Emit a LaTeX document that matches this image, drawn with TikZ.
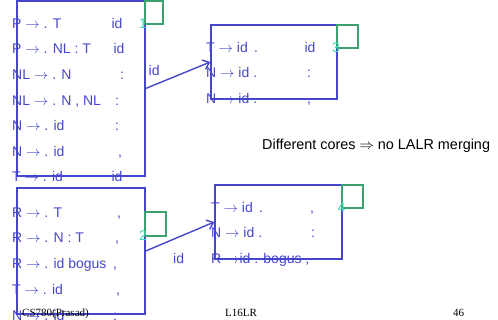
\documentclass[tikz,border=0pt]{standalone}
\usepackage{fontspec}
\setmainfont{Liberation Sans}
\newfontfamily\serifft{Liberation Serif}
\usetikzlibrary{arrows.meta}
\definecolor{itemblue}{RGB}{70,70,205}
\definecolor{boxgreen}{RGB}{60,160,110}
\definecolor{numteal}{RGB}{60,215,180}
\tikzset{
  bluebox/.style={draw=itemblue, line width=1.4pt, inner sep=0pt, rectangle},
  greenbox/.style={draw=boxgreen, line width=1.2pt, inner sep=0pt, rectangle},
  item/.style={anchor=base west, inner sep=0pt, text=itemblue, font=\fontsize{14}{16}\selectfont},
  look/.style={anchor=base, inner sep=0pt, text=itemblue, font=\fontsize{14}{16}\selectfont},
  num/.style={anchor=base, inner sep=0pt, text=numteal, font=\fontsize{14}{16}\selectfont},
  foot/.style={anchor=base west, inner sep=0pt, text=black, font=\serifft\fontsize{11}{13}\selectfont},
  trans/.style={draw=itemblue, line width=1.4pt, -{Straight Barb[length=6pt,width=10pt]}},
}
\begin{document}
\begin{tikzpicture}[x=1pt,y=-1pt]
\useasboundingbox (0,0) rectangle (498,320);
\clip (0,0) rectangle (498,320);
% boxes
\node[bluebox, minimum width=128pt, minimum height=175pt] (s1) at (81,88.5) {};
\node[bluebox, minimum width=128pt, minimum height=126pt] (s2) at (81,251) {};
\node[bluebox, minimum width=126pt, minimum height=74pt] (s3) at (274,62) {};
\node[bluebox, minimum width=127pt, minimum height=74pt] (s4) at (278.5,222) {};
% green state boxes
\node[greenbox, minimum width=18pt, minimum height=23pt] (g1) at (154,12.5) {};
\node[greenbox, minimum width=21pt, minimum height=24pt] (g2) at (155.5,224) {};
\node[greenbox, minimum width=21pt, minimum height=23pt] (g3) at (347.5,36.5) {};
\node[greenbox, minimum width=21pt, minimum height=23pt] (g4) at (352.5,196.5) {};
\node[num] (n1) at (143,28.3) {1};
\node[num] (n2) at (143,241) {2};
\node[num] (n3) at (336,52.3) {3};
\node[num] (n4) at (341.5,212.3) {4};
% state 1 items
\node[item] (a1) at (12,28.3) {P $\rightarrow$ . T};
\node[look] (l1) at (117,28.3) {id};
\node[item] (a2) at (12,53.9) {P $\rightarrow$ . NL : T};
\node[look] (l2) at (119,53.9) {id};
\node[item] (a3) at (12,79.5) {NL $\rightarrow$ . N};
\node[look] (l3) at (122,79.5) {:};
\node[item] (a4) at (12,105.1) {NL $\rightarrow$ . N , NL};
\node[look] (l4) at (117,105.1) {:};
\node[item] (a5) at (12,130.7) {N $\rightarrow$ . id};
\node[look] (l5) at (117,130.7) {:};
\node[item] (a6) at (12,156.3) {N $\rightarrow$ . id};
\node[look] (l6) at (120,156.3) {,};
\node[item] (a7) at (12,181.9) {T $\rightarrow$ . id};
\node[look] (l7) at (117,181.9) {id};
% state 2 items
\node[item] (b1) at (12,217.3) {R $\rightarrow$ . T};
\node[look] (m1) at (119,217.3) {,};
\node[item] (b2) at (12,243) {R $\rightarrow$ . N : T};
\node[look] (m2) at (117,243) {,};
\node[item] (b3) at (12,268.8) {R $\rightarrow$ . id bogus};
\node[look] (m3) at (115,268.8) {,};
\node[item] (b4) at (12,294.5) {T $\rightarrow$ . id};
\node[look] (m4) at (118,294.5) {,};
\node[item] (b5) at (12,320.3) {N $\rightarrow$ . id};
\node[look] (m5) at (115,320.3) {:};
% state 3 items
\node[item] (c1) at (206,52.3) {T $\rightarrow$ id\, .};
\node[look] (k1) at (310,52.3) {id};
\node[item] (c2) at (206,78) {N $\rightarrow$ id .};
\node[look] (k2) at (309,78) {:};
\node[item] (c3) at (206,104) {N $\rightarrow$ id .};
\node[look] (k3) at (309,104) {,};
% state 4 items
\node[item] (d1) at (211,212.3) {T $\rightarrow$ id\, .};
\node[look] (j1) at (312,212.3) {,};
\node[item] (d2) at (211,238) {N $\rightarrow$ id .};
\node[look] (j2) at (313,238) {:};
\node[item] (d3) at (211,264) {R $\rightarrow$id . bogus ,};
% transitions
\draw[trans] (s1.east) -- (s3.west);
\node[item] (t1) at (148.5,76) {id};
\draw[trans] (s2.east) -- (s4.west);
\node[item] (t2) at (173,264) {id};
% remark
\node[anchor=base west, inner sep=0pt, font=\fontsize{14.4}{16}\selectfont] (rem) at (262,150) {Different cores $\Rightarrow$ no LALR merging};
% footer
\node[foot] (f1) at (22,316.5) {CS780(Prasad)};
\node[foot] (f2) at (225,316.7) {L16LR};
\node[foot] (f3) at (453,316.7) {46};
\end{tikzpicture}
\end{document}
